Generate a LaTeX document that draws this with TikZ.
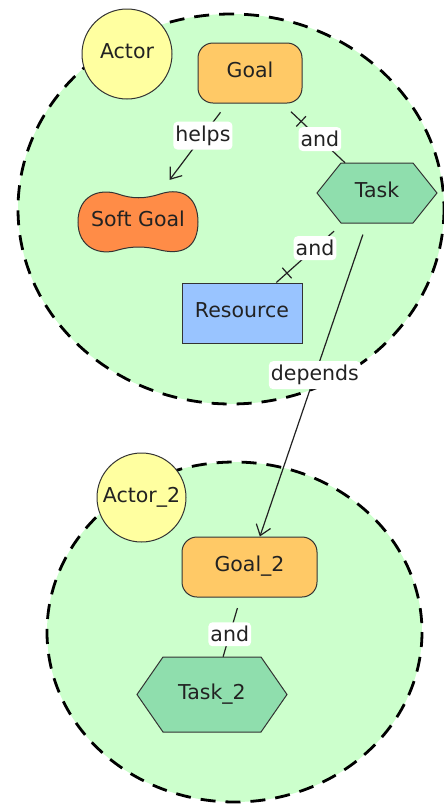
\documentclass[tikz,border=0pt]{standalone}
\usepackage{fontspec}
\setmainfont{DejaVu Sans}
\usetikzlibrary{arrows.meta,decorations.markings}

\definecolor{cluster}{HTML}{CCFFCC}
\definecolor{actorfill}{HTML}{FFFFA0}
\definecolor{goalfill}{HTML}{FFC966}
\definecolor{softfill}{HTML}{FF8C47}
\definecolor{taskfill}{HTML}{8FDEAD}
\definecolor{resfill}{HTML}{99C4FF}
\definecolor{ink}{HTML}{222222}
\definecolor{edge}{HTML}{333333}

\pgfdeclarelayer{zones}
\pgfdeclarelayer{shapes}
\pgfsetlayers{zones,shapes,main}

\begin{document}
\begin{tikzpicture}[x=1pt,y=-1pt,
  font=\fontsize{20.5}{24}\selectfont, text=ink,
  boundary/.style={fill=cluster, draw=black, line width=2.8pt, dash pattern=on 15pt off 10pt},
  lifted/.style={text height=15.5pt, text depth=6pt},
  actor/.style={circle, draw=edge, fill=actorfill, line width=1pt, inner sep=0pt, lifted},
  goalbox/.style={rectangle, rounded corners=15pt, draw=edge, fill=goalfill, line width=1pt,
    minimum height=60pt, inner sep=0pt, lifted},
  resbox/.style={rectangle, draw=edge, fill=resfill, line width=1pt,
    minimum width=120pt, minimum height=60pt, inner sep=0pt, lifted},
  frame/.style={rectangle, inner sep=0pt, lifted},
  outline/.style={draw=edge, line width=1pt},
  link/.style={draw=ink, line width=1.2pt},
  lbl/.style={fill=white, rounded corners=4pt, inner xsep=2pt, inner ysep=4pt, text=ink},
  tip/.style={-{Straight Barb[length=10pt,width=15pt,line width=1.2pt]}},
  teeat/.style={postaction={decorate, decoration={markings,
    mark=at position #1 with {\draw[link, shorten <=0pt, shorten >=0pt] (0pt,-7pt) -- (0pt,7pt);}}}}
]
\useasboundingbox (0,0) rectangle (444,804);

% actor boundaries
\begin{pgfonlayer}{zones}
  \path[boundary] (231,209) ellipse [x radius=213, y radius=195];
  \path[boundary] (234.5,632) ellipse [x radius=187.5, y radius=170];
\end{pgfonlayer}

% actors
\node[actor, minimum size=90pt] (actor) at (127,54) {Actor};
\node[actor, minimum size=89pt] (actor2) at (141.5,497.5) {Actor\_2};

% intentional elements
\node[goalbox, minimum width=104pt] (goal) at (250,73) {Goal};
\node[frame, minimum width=120pt, minimum height=63pt] (sg) at (138,222) {Soft Goal};
\node[frame, minimum width=120pt, minimum height=60pt] (task) at (377,193) {Task};
\node[resbox] (res) at (242,313) {Resource};
\node[goalbox, minimum width=135pt] (goal2) at (249.5,567) {Goal\_2};
\node[frame, minimum width=150pt, minimum height=75pt] (task2) at (212,694.5) {Task\_2};

% custom outlines behind the text
\begin{pgfonlayer}{shapes}
  \begin{scope}[shift={(sg.center)}]
    \draw[outline, fill=softfill]
      (-60,0) .. controls (-60,-27) and (-38,-34) .. (-20,-28)
      .. controls (-6,-23) and (7,-23) .. (22,-28)
      .. controls (47,-36) and (60,-22) .. (60,0)
      .. controls (60,23) and (47,34) .. (22,28)
      .. controls (7,24) and (-6,24) .. (-20,28)
      .. controls (-38,34) and (-60,26) .. cycle;
  \end{scope}
  \begin{scope}[shift={(task.center)}]
    \draw[outline, fill=taskfill]
      (-60,0) -- (-36,-30) -- (36,-30) -- (60,0) -- (36,30) -- (-36,30) -- cycle;
  \end{scope}
  \begin{scope}[shift={(task2.center)}]
    \draw[outline, fill=taskfill]
      (-75,0) -- (-49,-37.5) -- (49,-37.5) -- (75,0) -- (49,37.5) -- (-49,37.5) -- cycle;
  \end{scope}
\end{pgfonlayer}

% links
\draw[link, tip, shorten <=11pt, shorten >=13pt] (goal) -- node[lbl, pos=0.37] {helps} (sg);
\draw[link, shorten <=12pt, teeat=26pt] (goal) -- node[lbl, pos=0.6] {and} (task);
\draw[link, shorten <=12pt, teeat=-14pt] (task) -- node[lbl, pos=0.42] {and} (res);
\draw[link, tip, shorten <=12pt] (task) -- node[lbl, pos=0.485] {depends} (goal2);
\draw[link, shorten <=11pt] (goal2) -- node[lbl, pos=0.62] {and} (task2);
\end{tikzpicture}
\end{document}
